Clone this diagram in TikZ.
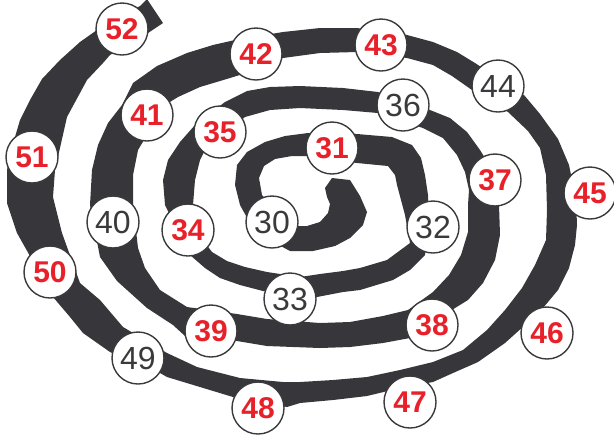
\documentclass[tikz,border=0pt]{standalone}
\usepackage{fontspec}
\setmainfont{Liberation Sans}
\definecolor{spBand}{HTML}{37373B}
\definecolor{spRed}{HTML}{E8202A}
\definecolor{spInk}{HTML}{3A3A3C}
\begin{document}
\begin{tikzpicture}[
  x=0.5pt, y=-0.5pt,
  sp band/.style={fill=spBand},
  sp stop/.style={circle,fill=white,draw=spInk,line width=.7pt,
    minimum size=26pt,inner sep=0pt},
  sp key/.style={sp stop,text=spRed,font=\fontsize{15}{15}\selectfont\bfseries},
  sp plain/.style={sp stop,text=spInk,font=\fontsize{16}{16}\selectfont}
]
\useasboundingbox (0,0) rectangle (614,436);

% The spiral band, traced as one outline: outer side from the inner end
% to the outer end, then back along the inner side.
\fill[sp band] (332,178) -- (350,180) -- (360,196) -- (367,212) -- (363,225)
  -- (350,238) -- (335,246) -- (313,251) -- (290,251) -- (255,232) -- (240,205)
  -- (235,185) -- (237,165) -- (247,152) -- (265,142) -- (285,136) -- (308,133)
  -- (357,134) -- (392,137) -- (412,145) -- (421,158) -- (425,175) -- (428,195)
  -- (428,235) -- (425,255) -- (410,270) -- (393,280) -- (360,290) -- (343,292)
  -- (317,297) -- (263,291) -- (240,285) -- (220,278) -- (205,268) -- (190,255)
  -- (165,205) -- (163,180) -- (168,160) -- (180,142) -- (195,125) -- (225,102)
  -- (247,91) -- (270,87) -- (300,86) -- (343,88) -- (378,92) -- (430,110)
  -- (450,118) -- (467,132) -- (480,150) -- (488,163) -- (499,205) -- (500,235)
  -- (495,260) -- (483,283) -- (468,300) -- (455,308) -- (410,338) -- (383,343)
  -- (350,347) -- (320,348) -- (267,346) -- (237,341) -- (185,336) -- (173,325)
  -- (147,308) -- (117,281) -- (100,257) -- (90,205) -- (92,170) -- (98,145)
  -- (108,123) -- (122,105) -- (133,83) -- (157,66) -- (187,53) -- (213,45)
  -- (235,40) -- (283,32) -- (320,28) -- (357,28) -- (407,35) -- (433,42)
  -- (457,52) -- (475,63) -- (524,95) -- (540,114) -- (558,139) -- (569,165)
  -- (576,200) -- (577,225) -- (575,245) -- (569,268) -- (558,290) -- (543,308)
  -- (525,325) -- (505,343) -- (478,362) -- (453,373) -- (433,382) -- (400,388)
  -- (367,396) -- (333,400) -- (300,403) -- (287,407) -- (233,397) -- (200,387)
  -- (167,377) -- (160,373) -- (110,352) -- (83,333) -- (70,317) -- (53,297)
  -- (17,233) -- (7,203) -- (7,170) -- (15,137) -- (20,120) -- (30,100)
  -- (42,79) -- (60,60) -- (80,42) -- (97,30) -- (140,6) -- (147,-1)
  -- (163,23) % outer end
  -- (157,27) -- (148,33) -- (110,55) -- (103,63) -- (87,80) -- (67,117)
  -- (55,170) -- (53,197) -- (62,233) -- (80,283) -- (100,300) -- (123,327)
  -- (167,353) -- (197,367) -- (240,378) -- (283,382) -- (300,382) -- (333,380)
  -- (367,377) -- (400,370) -- (433,362) -- (463,350) -- (487,330) -- (505,310)
  -- (522,288) -- (535,265) -- (546,240) -- (547,210) -- (546,175) -- (540,148)
  -- (528,131) -- (508,112) -- (472,90) -- (452,76) -- (433,65) -- (407,58)
  -- (357,52) -- (320,53) -- (283,58) -- (256,70) -- (230,78) -- (200,87)
  -- (178,97) -- (165,105) -- (138,150) -- (133,175) -- (133,205) -- (138,248)
  -- (145,268) -- (160,290) -- (187,307) -- (237,314) -- (267,319) -- (320,323)
  -- (350,322) -- (383,316) -- (408,310) -- (433,292) -- (449,275) -- (461,255)
  -- (468,232) -- (468,205) -- (469,190) -- (465,172) -- (457,155) -- (443,138)
  -- (423,128) -- (378,113) -- (343,110) -- (300,108) -- (270,110) -- (245,117)
  -- (205,150) -- (200,160) -- (195,180) -- (193,205) -- (203,240) -- (212,252)
  -- (227,261) -- (245,267) -- (267,272) -- (300,277) -- (320,274) -- (343,271)
  -- (360,268) -- (387,260) -- (410,243) -- (405,215) -- (401,200) -- (397,185)
  -- (395,175) -- (388,166) -- (357,163) -- (308,156) -- (292,156) -- (275,159)
  -- (264,166) -- (259,178) -- (262,195) -- (275,210) -- (298,226) -- (307,226)
  -- (320,222) -- (328,213) -- (330,204) -- (327,197) -- (325,188) -- cycle;

% Numbered stops on the band: red bold and plain grey.
\foreach \n/\px/\py in {31/332/148,34/188/230,35/220/132,37/495/180,
    38/432/325,39/211/331,41/147/115,42/256/54,43/381/45,45/590/193,
    46/547/333,47/410/402,48/258/408,50/50/272,51/32/157,52/122/29}
  \node[sp key] (n\n) at (\px,\py) {\n};
\foreach \n/\px/\py in {30/272/222,32/433/227,33/290/299,36/403/105,
    40/113/222,44/498/86,49/138/358}
  \node[sp plain] (n\n) at (\px,\py) {\n};
\end{tikzpicture}
\end{document}
